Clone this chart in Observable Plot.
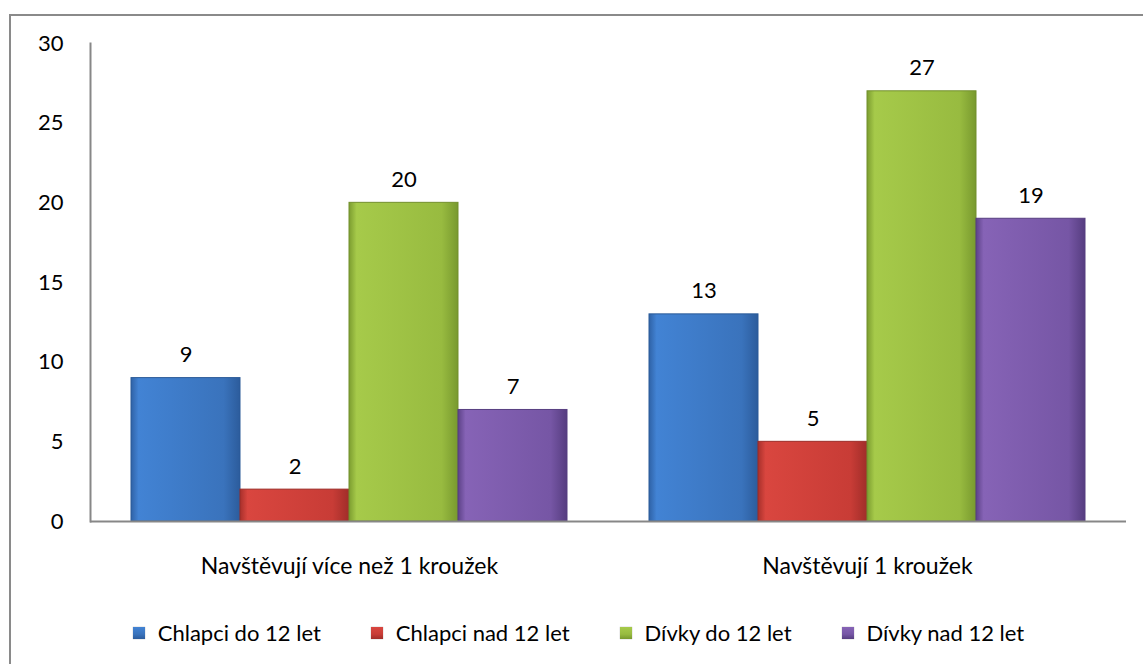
<!DOCTYPE html>
<html>
<head>
<meta charset="utf-8">
<script src="https://cdn.jsdelivr.net/npm/d3@7"></script>
<script src="https://cdn.jsdelivr.net/npm/@observablehq/plot@0.6"></script>
<style>
  html, body { margin: 0; padding: 0; background: #fff; }
  #wrap { position: relative; width: 1143px; height: 664px; overflow: hidden; font-family: Lato, "Open Sans", sans-serif; }
  #border { position: absolute; left: 9px; top: 14px; width: 1300px; height: 800px; border: 2px solid #8a8a8a; pointer-events: none; box-sizing: border-box; }
  #chart svg { display: block; }
  #legend { position: absolute; left: 0; top: 619px; width: 1143px; display: flex; justify-content: center; align-items: center; font-size: 22px; color: #000; padding-left: 14px; box-sizing: border-box; }
  .item { display: flex; align-items: center; margin: 0 25px; }
  .sw { width: 12px; height: 12px; margin-right: 13px; box-shadow: 0 0 1px rgba(0,0,0,0.4); }
</style>
</head>
<body>
<div id="wrap">
  <div id="chart"></div>
  <div id="legend"></div>
  <div id="border"></div>
</div>
<script>
const categories = ["Navštěvují více než 1 kroužek", "Navštěvují 1 kroužek"];
const series = ["Chlapci do 12 let", "Chlapci nad 12 let", "Dívky do 12 let", "Dívky nad 12 let"];
const valuesMoreThanOne = [9, 2, 20, 7];
const valuesOne = [13, 5, 27, 19];
const yTicks = [0, 5, 10, 15, 20, 25, 30];
const seriesColors = [
  ["#2f62a6", "#4283d4", "#3a73bc", "#2c5c9c"],
  ["#a8302b", "#d9463f", "#c83c36", "#a02d29"],
  ["#7c9d30", "#a6ca4a", "#98bb40", "#78992e"],
  ["#5d4288", "#8663b6", "#7656a5", "#563d80"]
];
const strokeColors = ["#2a5a98", "#9c2d28", "#728f2c", "#573e80"];

const data = [];
categories.forEach((c, ci) => {
  const vals = ci === 0 ? valuesMoreThanOne : valuesOne;
  series.forEach((s, si) => data.push({category: c, series: s, value: vals[si]}));
});

const gradIds = series.map((s, i) => "grad" + i);
const FONT = "Lato, 'Open Sans', sans-serif";

const svg = Plot.plot({
  width: 1143,
  height: 600,
  marginLeft: 89,
  marginRight: 17,
  marginTop: 43,
  marginBottom: 79,
  style: {fontFamily: FONT, fontSize: "22px", color: "#000", background: "transparent"},
  fx: {domain: categories, padding: 0, label: null},
  x: {domain: series, paddingInner: 0, paddingOuter: 0.357, axis: null},
  y: {domain: [0, 30], label: null},
  color: {domain: series, range: gradIds.map(id => `url(#${id})`)},
  marks: [
    Plot.barY(data, {fx: "category", x: "series", y: "value", fill: "series", stroke: "series", strokeWidth: 1}),
    Plot.text(data, {fx: "category", x: "series", y: "value", text: d => String(d.value), dy: -23, fontSize: 22, fill: "#000"}),
    Plot.axisY({ticks: yTicks, tickSize: 0, tickPadding: 27, fontSize: 22, fill: "#000"}),
    Plot.axisFx({anchor: "bottom", tickSize: 0, tickPadding: 36, fontSize: 23, fill: "#000"}),
    Plot.ruleY([0], {stroke: "#878787", strokeWidth: 2}),
    Plot.frame({anchor: "left", facetAnchor: "left", stroke: "#878787", strokeWidth: 2})
  ]
});

// gradient definitions referenced by the color scale
const defs = d3.select(svg).insert("defs", ":first-child");
seriesColors.forEach((cols, i) => {
  const g = defs.append("linearGradient").attr("id", gradIds[i]).attr("x1", 0).attr("x2", 1).attr("y1", 0).attr("y2", 0);
  g.append("stop").attr("offset", "0%").attr("stop-color", cols[0]);
  g.append("stop").attr("offset", "7%").attr("stop-color", cols[1]);
  g.append("stop").attr("offset", "85%").attr("stop-color", cols[2]);
  g.append("stop").attr("offset", "100%").attr("stop-color", cols[3]);
});
// stroke colours for bars
d3.select(svg).selectAll("rect").each(function() {
  const s = this.getAttribute("stroke");
  if (s && s.startsWith("url(#grad")) {
    const i = +s.match(/grad(\d)/)[1];
    this.setAttribute("stroke", strokeColors[i]);
  }
});

document.getElementById("chart").appendChild(svg);

const legend = document.getElementById("legend");
series.forEach((s, i) => {
  const cols = seriesColors[i];
  const item = document.createElement("div");
  item.className = "item";
  const sw = document.createElement("div");
  sw.className = "sw";
  sw.style.background = `linear-gradient(180deg, ${cols[1]} 0%, ${cols[2]} 60%, ${cols[3]} 100%)`;
  const t = document.createElement("span");
  t.textContent = s;
  item.appendChild(sw);
  item.appendChild(t);
  legend.appendChild(item);
});
</script>
</body>
</html>
